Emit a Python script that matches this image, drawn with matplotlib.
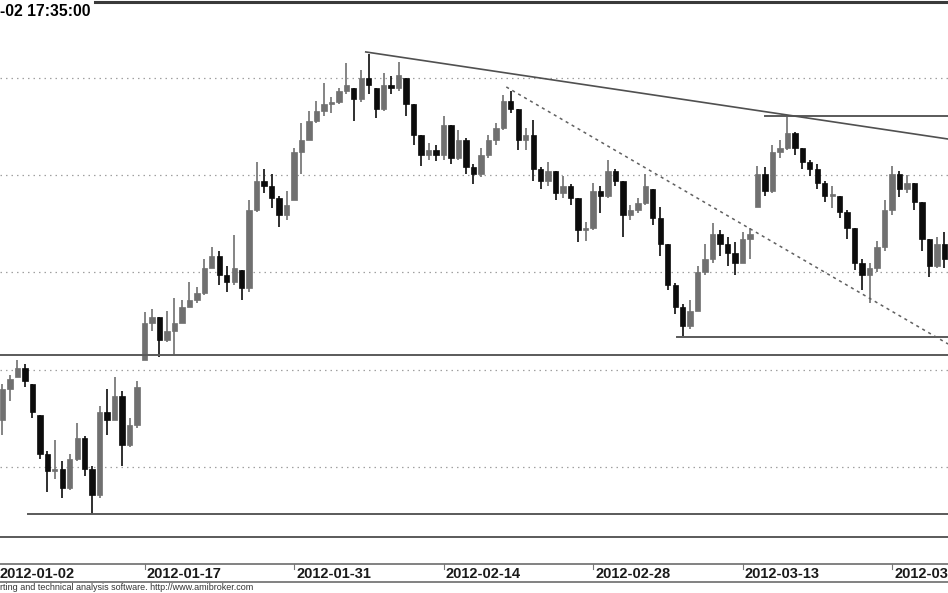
import numpy as np
import matplotlib.pyplot as plt
from matplotlib.lines import Line2D
from matplotlib.transforms import blended_transform_factory

plt.rcParams['font.family'] = ['Liberation Sans', 'DejaVu Sans']

# two bars per trading day, session starting 2012-01-02
tick_days = [0, 10, 20, 30, 40, 50, 60]
tick_labels = ['2012-01-02', '2012-01-17', '2012-01-31', '2012-02-14',
               '2012-02-28', '2012-03-13', '2012-03-27']
bars_per_day = 2

highs = [2234, 2242.5, 2247.5, 2255, 2253, 2242.5, 2226.5, 2208, 2214, 2203,
         2206.5, 2222.5, 2216, 2200.5, 2231.5, 2240, 2246, 2239, 2225, 2244,
         2279.5, 2281, 2277, 2280, 2287, 2286, 2295, 2292.5, 2307, 2313,
         2311, 2303.5, 2319, 2301, 2337, 2356.5, 2353, 2350.5, 2339.5, 2342,
         2364, 2377, 2383, 2388, 2397.5, 2390, 2395, 2407.5, 2395, 2404,
         2412.5, 2395, 2402.5, 2401, 2408, 2400, 2386.5, 2370.5, 2366.5, 2365.5,
         2380.5, 2375.5, 2373, 2369, 2355.5, 2364, 2370.5, 2377, 2391, 2393,
         2384, 2374, 2378.5, 2354, 2356.5, 2352, 2349.5, 2345.5, 2338, 2326,
         2346, 2344.5, 2358, 2353, 2347, 2334.5, 2338, 2350.5, 2343, 2333.5,
         2314.5, 2294.5, 2283.5, 2286, 2303.5, 2314.5, 2325.5, 2322, 2318, 2315.5,
         2321, 2323, 2354.5, 2354, 2365.5, 2368, 2380.5, 2372, 2364, 2358,
         2355.5, 2347, 2344.5, 2339.5, 2332, 2323, 2307, 2305, 2316, 2337,
         2354.5, 2352, 2350, 2346, 2336, 2317, 2318, 2320.5]
lows = [2216.5, 2216.5, 2234, 2246, 2241, 2225, 2204, 2187, 2194, 2184,
        2188, 2203, 2195.5, 2176, 2184, 2216.5, 2224, 2200.5, 2210, 2220,
        2255, 2270, 2256.5, 2264, 2257.5, 2274, 2282, 2284.5, 2288.5, 2302,
        2293.5, 2290, 2293.5, 2286, 2290, 2331, 2341, 2333, 2323.5, 2327,
        2337, 2350.5, 2368, 2377, 2380.5, 2382, 2386.5, 2391.5, 2378, 2387.5,
        2391.5, 2379.5, 2383, 2391.5, 2393, 2380.5, 2365.5, 2354.5, 2358, 2357,
        2358, 2355.5, 2358, 2350.5, 2345.5, 2349, 2359, 2365.5, 2373, 2382,
        2363, 2363, 2347, 2343, 2344.5, 2337, 2338, 2334.5, 2315.5, 2316,
        2322, 2330.5, 2338, 2344.5, 2318, 2327, 2330.5, 2334.5, 2324.5, 2308.5,
        2291, 2278.5, 2267.5, 2271, 2280, 2298.5, 2305, 2308.5, 2303.5, 2298.5,
        2305, 2307, 2333.5, 2339.5, 2341, 2359, 2363, 2360.5, 2353, 2349.5,
        2343, 2336, 2333, 2328, 2317, 2301, 2291, 2284.5, 2300, 2311,
        2329.5, 2338.5, 2341, 2332, 2311, 2297.5, 2302, 2302.5]
closes = [2224, 2240, 2245, 2251, 2244, 2228, 2206.5, 2198, 2199, 2189,
          2204, 2215, 2199, 2185.5, 2228, 2224, 2236.5, 2211.5, 2221.5, 2241,
          2274, 2277, 2265, 2270, 2274, 2282, 2286, 2289.5, 2302, 2308.5,
          2298.5, 2295, 2302, 2292, 2332, 2347, 2344.5, 2338, 2329.5, 2334.5,
          2362, 2368, 2378, 2383, 2386.5, 2387.5, 2393, 2396.5, 2389, 2400,
          2396.5, 2384, 2396.5, 2395, 2401.5, 2386.5, 2370.5, 2360.5, 2363, 2360.5,
          2375.5, 2359, 2368, 2354, 2350.5, 2360.5, 2368, 2374, 2388, 2384,
          2368, 2370.5, 2353, 2347, 2352, 2341, 2344.5, 2338, 2322, 2323,
          2342, 2339.5, 2352, 2347, 2329.5, 2332, 2335.5, 2344.5, 2328, 2314.5,
          2293.5, 2282, 2272.5, 2280, 2300, 2307, 2319.5, 2314.5, 2310, 2305,
          2317, 2319.5, 2350.5, 2342, 2362, 2364, 2371.5, 2364, 2356.5, 2353,
          2346, 2339.5, 2339.5, 2331, 2323, 2305, 2298.5, 2302, 2313, 2332,
          2350.5, 2343, 2346, 2336, 2317, 2303.5, 2314.5, 2307]
first_open = 2230

grid_levels = [2200, 2250, 2300, 2350, 2400]

# drawn support / resistance lines: (start bar, end bar, price)
flat_lines = [(0.0, 128.0, 2257.5), (4.4, 128.0, 2176), (0.0, 128.0, 2164),
              (91.2, 128.0, 2266.8), (103.0, 128.0, 2380.4)]
# trendlines: (start bar, end bar, start price, end price)
trend_solid = (49.6, 127.4, 2413.3, 2368.6)
trend_dotted = (68.4, 127.5, 2395.3, 2263.2)

W, H = 948, 593
fig = plt.figure(figsize=(W / 100, H / 100), dpi=100)
ax = fig.add_axes([0, 0, 1, 1])
ax.axis('off')
ax.set_xlim(0.669, 127.49)
ax.set_ylim(2135.2, 2440)

def fy(py):
    return 1 - py / H

# grid
for g in grid_levels:
    ax.axhline(g, color='#a0a0a0', lw=0.9, ls=(0, (1.2, 3.2)), zorder=1)

# candles
highs = np.array(highs)
lows = np.array(lows)
closes = np.array(closes)
prev = np.concatenate([[first_open], closes[:-1]])
opens = np.clip(prev, lows, highs)
x = np.arange(len(closes))
up = closes >= opens
body = np.where(np.abs(closes - opens) < 0.8, 0.8, closes - opens)
for mask, col in [(up, '#707070'), (~up, '#0c0c0c')]:
    ax.vlines(x[mask], lows[mask], highs[mask], color=col, lw=1.2, zorder=3)
    ax.bar(x[mask], body[mask], bottom=opens[mask], width=0.72,
           color=col, edgecolor=col, lw=0.5, zorder=4)

# drawn lines
for x0, x1, p in flat_lines:
    ax.plot([x0, x1], [p, p], color='#5a5a5a', lw=1.4, zorder=5)
ax.plot(trend_solid[:2], trend_solid[2:], color='#505050', lw=1.2, zorder=5)
ax.plot(trend_dotted[:2], trend_dotted[2:], color='#606060', lw=1.1,
        ls=(0, (2, 2.5)), zorder=5)

# frame pieces
fig.add_artist(Line2D([95 / W, 1], [fy(1.5), fy(1.5)], color='#3a3a3a', lw=2.2))
fig.add_artist(Line2D([0, 1], [fy(564), fy(564)], color='#777777', lw=1.3))
fig.add_artist(Line2D([0, 1], [fy(582), fy(582)], color='#777777', lw=1.3))

trans = blended_transform_factory(ax.transData, fig.transFigure)
for d, lab in zip(tick_days, tick_labels):
    xb = d * bars_per_day
    ax.plot([xb, xb], [fy(564), fy(569)], color='#777777', lw=0.8,
            transform=trans, clip_on=False)
    if d == 0:
        fig.text(0.0, fy(573.5), lab, fontsize=10.5, fontweight='bold',
                 color='#1a1a1a', va='center', ha='left')
        continue
    ax.text(xb + 0.3, fy(573.5), lab, transform=trans, fontsize=10.5,
            fontweight='bold', color='#1a1a1a', va='center', ha='left',
            clip_on=False)

fig.text(0.0, fy(11), '-02 17:35:00', fontsize=11.3, fontweight='bold',
         color='black', va='center', ha='left')
fig.text(0.0, fy(587.5), 'rting and technical analysis software. http://www.amibroker.com',
         fontsize=6.5, color='#333333', va='center', ha='left')

fig.savefig('out.png', dpi=100)
